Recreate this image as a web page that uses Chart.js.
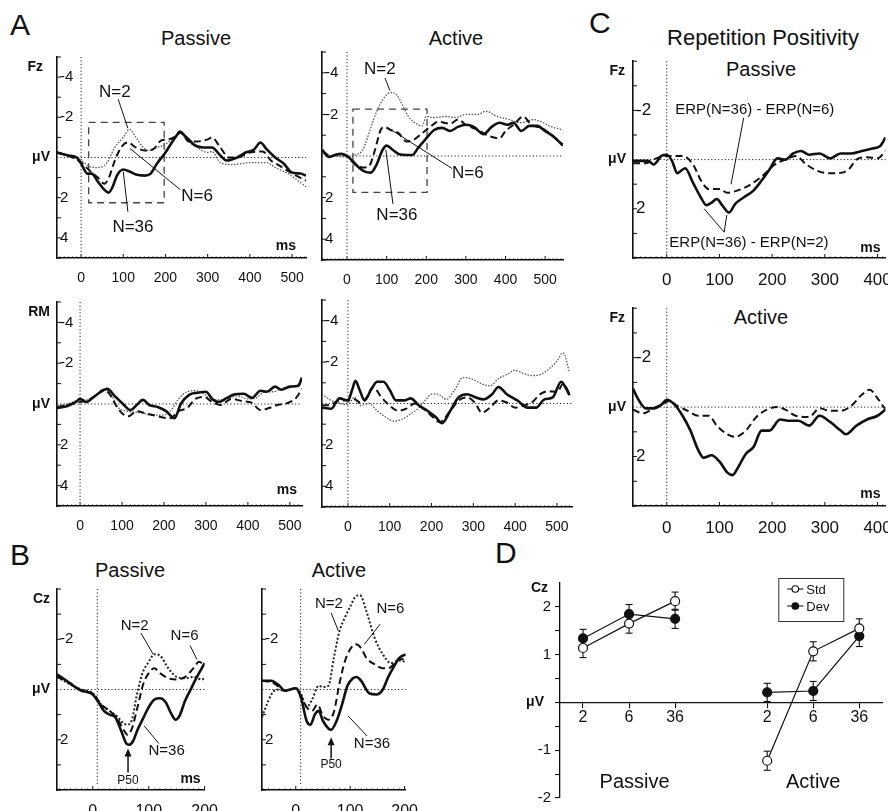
<!DOCTYPE html>
<html lang="en">
<head>
<meta charset="UTF-8" />
<title>Repetition positivity ERPs</title>
<script src="https://cdn.jsdelivr.net/npm/chart.js@4.4.1/dist/chart.umd.min.js"></script>
<style>
  html, body { margin: 0; padding: 0; background: #fff; }
  body {
    width: 888px; height: 811px; position: relative; overflow: hidden;
    font-family: "Liberation Sans", Arial, sans-serif; color: #111;
  }
  canvas { position: absolute; }
  .lbl { position: absolute; line-height: 1; white-space: nowrap; }
  .letter { font-size: 30px; }
  .ttl { font-size: 20px; transform: translateX(-50%); }
</style>
</head>
<body>
<div class="lbl letter" style="left:10px;top:10px">A</div>
<div class="lbl ttl" style="left:196px;top:28px">Passive</div>
<div class="lbl ttl" style="left:456px;top:28px">Active</div>
<div class="lbl letter" style="left:589px;top:8px">C</div>
<div class="lbl ttl" style="left:763px;top:27px;font-size:22px">Repetition Positivity</div>
<div class="lbl ttl" style="left:761px;top:59px">Passive</div>
<div class="lbl ttl" style="left:761px;top:307px">Active</div>
<div class="lbl letter" style="left:10px;top:540px">B</div>
<div class="lbl ttl" style="left:130px;top:560px">Passive</div>
<div class="lbl ttl" style="left:339px;top:560px">Active</div>
<div class="lbl letter" style="left:495px;top:538px">D</div>

<script>
const FONT = '"Liberation Sans", Arial, sans-serif';

// tick labels
const timeTicksA = [0, 100, 200, 300, 400, 500];
const timeTicksB = [0, 100, 200];
const timeTicksC = [0, 100, 200, 300, 400];
const ampLabelsA = [-4, -2, 2, 4];
const ampLabelsBC = [-2, 2];
const ampTicksD = [-2, -1.5, -1, -0.5, 0, 0.5, 1, 1.5, 2];

// A: Fz, passive  [ms, uV]
const fzPassive36 = [[-57,-0.25],[-30,-0.1],[-10,0],[0,0.3],[15,0.8],[25,0.8],[40,1.2],[55,1.6],[65,1.75],[75,1.45],[85,0.9],[100,0.6],[115,0.7],[130,0.85],[150,0.9],[165,0.8],[180,0.3],[200,-0.25],[220,-0.9],[235,-1.25],[250,-1.0],[270,-0.6],[290,-0.5],[310,-0.5],[330,-0.1],[345,0.15],[370,0],[390,-0.25],[410,-0.4],[425,-0.75],[440,-0.4],[460,0],[480,0.3],[500,0.75],[520,0.8],[533,0.9]];
const fzPassive6 = [[-57,-0.25],[-20,0],[0,0.25],[20,0.65],[40,1.0],[55,1.3],[65,1.05],[80,0.15],[95,-0.5],[110,-0.75],[130,-0.5],[150,-0.35],[170,-0.4],[190,-0.85],[205,-0.9],[220,-1.0],[235,-1.3],[255,-0.8],[275,-0.8],[300,-0.9],[310,-1.0],[330,-0.5],[350,0],[370,0],[400,-0.25],[430,-0.3],[450,0.15],[470,0.4],[500,0.8],[533,1.15]];
const fzPassive2 = [[-57,-0.3],[-20,0],[0,0.15],[20,0.45],[40,0.5],[60,0.3],[80,-0.5],[100,-1.0],[115,-1.4],[130,-1.0],[145,-0.55],[160,-0.35],[180,-0.5],[200,-0.65],[220,-1.0],[235,-1.2],[255,-0.8],[275,-0.5],[300,-0.25],[310,-0.3],[330,0.25],[360,0.35],[400,0.25],[440,0.25],[460,0.5],[490,0.8],[533,1.45]];

// A: Fz, active
const fzActive36 = [[-63,-0.3],[-45,0.05],[-30,-0.05],[-15,-0.1],[0,0],[15,0.25],[30,0.55],[45,0.75],[60,0.8],[75,0.4],[90,-0.3],[100,-0.5],[115,-0.3],[130,-0.1],[150,-0.05],[165,-0.05],[180,-0.4],[200,-0.85],[220,-1.25],[240,-1.35],[260,-1.2],[280,-1.4],[300,-1.5],[320,-1.4],[345,-1.05],[365,-1.4],[385,-1.6],[405,-1.5],[420,-1.6],[440,-1.2],[460,-1.45],[480,-1.45],[500,-1.2],[520,-0.95],[545,-0.5]];
const fzActive6 = [[-63,-0.25],[-40,0],[-20,-0.1],[0,0],[20,0.4],[40,0.55],[55,0.5],[70,-0.25],[85,-1.25],[95,-1.4],[110,-1.25],[130,-1.1],[150,-0.7],[170,-0.8],[190,-1.1],[210,-1.4],[230,-1.65],[260,-1.55],[280,-1.75],[300,-1.5],[330,-1.25],[360,-0.95],[385,-0.85],[400,-1.2],[420,-1.5],[445,-1.9],[465,-1.5],[490,-1.35],[510,-1.1],[545,-0.55]];
const fzActive2 = [[-63,-0.1],[-30,0],[0,0.05],[20,-0.05],[40,-0.3],[60,-1.35],[75,-2.15],[90,-2.7],[110,-3.05],[125,-2.95],[140,-2.45],[155,-1.9],[175,-1.55],[190,-1.45],[200,-1.9],[220,-1.85],[250,-1.9],[275,-1.85],[300,-2.0],[330,-2.0],[350,-2.15],[380,-1.9],[410,-1.75],[440,-1.6],[470,-1.75],[490,-1.65],[510,-1.45],[545,-1.25]];

// A: RM, passive
const rmPassive36 = [[-55,0.2],[-30,0.1],[-10,-0.1],[0,-0.25],[15,-0.1],[30,-0.3],[50,-0.6],[65,-0.75],[80,-0.45],[100,-0.05],[120,0.3],[135,0.05],[150,-0.2],[165,0.05],[185,0.15],[205,0.35],[225,0.7],[240,0],[260,-0.45],[280,-0.55],[300,-0.6],[315,-0.25],[330,-0.1],[350,-0.3],[365,-0.45],[390,-0.5],[410,-0.3],[430,-0.65],[445,-0.6],[465,-0.85],[480,-0.7],[500,-0.85],[520,-0.9],[529,-1.3]];
const rmPassive6 = [[-55,0.15],[-30,0.05],[0,-0.1],[20,-0.2],[40,-0.45],[55,-0.7],[70,-0.5],[85,0.05],[100,0.45],[115,0.6],[135,0.35],[155,0.45],[175,0.55],[195,0.65],[215,0.7],[235,0.35],[255,0.2],[275,-0.25],[295,-0.35],[315,-0.1],[335,0.05],[360,-0.25],[385,-0.15],[410,-0.05],[430,0.3],[450,0.2],[470,0.05],[495,-0.05],[515,-0.3],[529,-0.75]];
const rmPassive2 = [[-55,0.05],[-30,0],[0,-0.2],[20,-0.2],[40,-0.5],[60,-0.7],[75,-0.45],[90,0.15],[110,0.35],[130,0.4],[150,0.45],[170,0.55],[195,0.55],[215,0.35],[235,-0.25],[255,-0.6],[275,-0.65],[295,-0.5],[315,-0.2],[335,-0.2],[355,-0.3],[375,-0.4],[400,-0.25],[420,-0.3],[440,-0.6],[460,-0.6],[480,-0.75],[500,-0.85],[520,-0.85],[529,-1.1]];

// A: RM, active
const rmActive36 = [[-62,0.2],[-40,0.25],[-20,-0.25],[0,-0.15],[10,-0.65],[18,-1.1],[28,-0.65],[40,-0.15],[55,-0.65],[70,-1.05],[85,-1.05],[100,-0.65],[115,-0.15],[135,-0.15],[150,-0.25],[170,0.1],[190,0.35],[210,0.65],[225,0.95],[245,0.35],[265,-0.3],[285,-0.45],[305,-0.3],[325,-0.2],[345,-0.45],[360,-0.8],[380,-0.45],[405,-0.15],[430,0.2],[450,0.2],[470,-0.2],[490,-0.3],[510,-1.05],[520,-0.8],[530,-0.4]];
const rmActive6 = [[-62,0.1],[-40,0.05],[-20,-0.15],[0,-0.15],[15,-0.2],[30,-0.05],[45,-0.3],[60,-0.8],[80,-0.3],[100,0.1],[120,0.35],[140,0.25],[160,0],[180,0.25],[200,0.6],[220,0.9],[245,0.35],[265,-0.15],[285,-0.3],[305,0],[320,0.45],[340,0.2],[360,-0.15],[380,-0.05],[400,0.2],[420,0.1],[440,-0.05],[460,-0.45],[480,-0.6],[500,-0.55],[515,-0.95],[530,-0.45]];
const rmActive2 = [[-62,-0.45],[-40,-0.15],[-20,0],[0,0.05],[15,-0.3],[30,0.1],[50,0],[70,0.35],[90,0.65],[110,0.85],[130,0.75],[150,0.5],[170,0.2],[185,-0.15],[200,-0.45],[215,-0.45],[235,-0.2],[255,-0.65],[275,-1.25],[295,-1.2],[320,-0.95],[340,-0.85],[360,-1.2],[380,-1.4],[400,-1.6],[420,-1.45],[440,-1.35],[460,-1.4],[480,-1.65],[500,-2.05],[515,-2.45],[530,-1.5]];

// B: Cz, passive
const czPassive36 = [[-64,-0.6],[-50,-0.4],[-35,-0.15],[-20,0.05],[-10,0.1],[0,0.2],[10,0.5],[20,0.85],[30,1.0],[40,1.1],[50,1.6],[60,2.15],[65,2.2],[72,2.05],[80,1.6],[90,1.15],[100,0.7],[110,0.4],[120,0.35],[130,0.5],[140,0.95],[148,1.2],[155,1.05],[165,0.45],[175,0],[185,-0.45],[195,-0.85],[200,-1.05]];
const czPassive6 = [[-64,-0.5],[-40,-0.25],[-20,0.05],[0,0.15],[15,0.6],[30,0.85],[45,1.2],[55,1.6],[62,1.8],[70,1.55],[80,0.7],[90,-0.2],[100,-0.65],[110,-0.85],[120,-0.65],[135,-0.45],[150,-0.4],[165,-0.5],[180,-0.85],[190,-1.1],[200,-0.95]];
const czPassive2 = [[-64,-0.5],[-40,-0.2],[-20,0],[0,0.15],[15,0.6],[30,0.85],[45,1.1],[55,1.35],[62,1.4],[70,1.2],[78,0.3],[88,-0.6],[100,-1.1],[110,-1.4],[120,-1.35],[135,-0.85],[150,-0.5],[165,-0.45],[180,-0.5],[195,-0.4],[200,-0.45]];

// B: Cz, active
const czActive36 = [[-62,-0.35],[-45,-0.35],[-30,-0.15],[-20,0.05],[-10,0],[0,-0.05],[10,0.35],[20,1.25],[27,1.4],[35,1.0],[42,0.85],[50,1.25],[60,1.55],[65,1.6],[75,1.25],[85,0.6],[95,-0.15],[105,-0.45],[112,-0.5],[120,-0.35],[135,0.15],[148,0.2],[160,0],[170,-0.5],[180,-0.9],[190,-1.25],[202,-1.4]];
const czActive6 = [[-62,-0.35],[-40,-0.25],[-20,0.05],[-10,0],[0,-0.05],[10,0.25],[20,0.7],[30,0.85],[40,0.6],[50,1.05],[60,1.2],[70,0.9],[80,-0.2],[90,-1.1],[100,-1.6],[110,-1.8],[120,-1.65],[130,-1.25],[145,-1.0],[160,-0.85],[170,-0.85],[180,-1.0],[190,-1.2],[202,-1.2]];
const czActive2 = [[-62,1.1],[-55,0.7],[-45,0.2],[-35,0],[-20,0.05],[-10,0],[0,-0.05],[10,0.2],[20,0.7],[30,0.4],[42,-0.15],[50,-0.1],[60,-0.15],[70,-1.25],[80,-2.3],[90,-2.85],[100,-3.3],[110,-3.7],[118,-3.75],[130,-3.1],[145,-2.05],[160,-1.4],[175,-1.05],[190,-1.15],[202,-1.1]];

// C: difference waves ERP(N=36) - ERP(N=2) and ERP(N=36) - ERP(N=6)
const rpPassiveMinus2 = [[-64,0.05],[-50,0.05],[-35,0.05],[-25,0.2],[-10,-0.15],[0,-0.2],[10,0.05],[20,0.55],[35,0.35],[50,0.95],[65,1.55],[75,1.85],[85,1.75],[95,1.6],[105,1.85],[118,2.15],[130,1.8],[145,1.55],[165,1.25],[180,0.85],[195,0.4],[210,-0.05],[225,0],[240,-0.25],[255,-0.35],[270,-0.2],[290,-0.25],[310,-0.05],[330,-0.25],[350,-0.25],[370,-0.35],[390,-0.45],[405,-0.55],[415,-0.9]];
const rpPassiveMinus6 = [[-64,0.15],[-40,0.15],[-20,-0.05],[0,-0.15],[15,-0.15],[30,-0.15],[50,0.2],[65,0.85],[80,1.2],[100,1.2],[115,1.35],[135,1.25],[160,1.0],[185,0.6],[205,0.2],[225,0],[245,-0.15],[265,0.2],[285,0.45],[305,0.55],[325,0.55],[345,0.4],[360,0],[380,-0.1],[400,-0.05],[415,-0.35]];
const rpActiveMinus2 = [[-64,-0.75],[-55,-0.35],[-40,0.05],[-25,0.05],[-10,-0.1],[0,-0.3],[15,-0.1],[30,0.35],[45,0.95],[60,1.75],[70,2.05],[85,1.95],[100,2.2],[115,2.65],[125,2.75],[135,2.45],[150,1.9],[165,1.6],[180,0.95],[195,0.95],[215,0.5],[230,0.55],[250,0.55],[270,0.75],[290,0.35],[310,0.6],[330,0.95],[340,1.1],[360,0.75],[380,0.5],[400,0.35],[415,0.1]];
const rpActiveMinus6 = [[-64,0.1],[-45,0.25],[-25,0.05],[-10,-0.1],[5,-0.25],[20,-0.05],[40,0.15],[60,0.35],[80,0.35],[95,0.75],[115,1.1],[130,1.2],[150,0.95],[170,0.4],[190,0.1],[210,0],[225,0.1],[245,0.35],[270,0.4],[290,0.05],[310,0.15],[330,0.15],[350,-0.05],[370,-0.5],[385,-0.7],[400,-0.35],[415,0.1]];

// D: P50 amplitude at Cz by set size
const setSizes = ['2', '6', '36'];
const passiveX = [1, 2, 3];
const activeX = [5, 6, 7];
const stdPassive = [1.14, 1.65, 2.12];
const stdActive = [-1.22, 1.07, 1.55];
const devPassive = [1.34, 1.85, 1.75];
const devActive = [0.21, 0.24, 1.39];
const stdPassiveErr = [0.2, 0.2, 0.19];
const stdActiveErr = [0.2, 0.2, 0.2];
const devPassiveErr = [0.19, 0.2, 0.2];
const devActiveErr = [0.19, 0.2, 0.22];

function seg(ctx, x1, y1, x2, y2) {
  ctx.beginPath(); ctx.moveTo(x1, y1); ctx.lineTo(x2, y2); ctx.stroke();
}

const erpDecor = {
  id: 'erpDecor',
  beforeDatasetsDraw(chart, args, o) {
    const { ctx, chartArea: a, scales: { x, y } } = chart;
    ctx.save();
    ctx.strokeStyle = '#222';
    ctx.lineWidth = 1;
    ctx.setLineDash([1.2, 2.2]);
    const y0 = y.getPixelForValue(0);
    seg(ctx, a.left, y0, a.right, y0);
    const xo = x.getPixelForValue(o.onset);
    seg(ctx, xo, a.top, xo, a.bottom - 5);
    ctx.setLineDash([]);
    ctx.strokeStyle = '#111';
    for (let v = Math.ceil(y.min); v <= y.max; v++) {
      if (v === 0) continue;
      const py = y.getPixelForValue(v);
      seg(ctx, a.left, py, a.left + 4, py);
    }
    for (let v = Math.ceil(x.min / 10) * 10; v <= x.max; v += 10) {
      const px = x.getPixelForValue(v);
      const len = v % 100 === 0 ? 4 : 1.5;
      seg(ctx, px, a.bottom, px, a.bottom - len);
    }
    if (o.box) {
      const [x1, x2, v1, v2] = o.box;
      ctx.strokeStyle = '#444';
      ctx.lineWidth = 1.3;
      ctx.setLineDash([7, 5]);
      const px1 = x.getPixelForValue(x1), px2 = x.getPixelForValue(x2);
      const py1 = y.getPixelForValue(v1), py2 = y.getPixelForValue(v2);
      ctx.strokeRect(px1, py1, px2 - px1, py2 - py1);
      ctx.setLineDash([]);
    }
    ctx.restore();
  },
  afterDatasetsDraw(chart, args, o) {
    const { ctx, chartArea: a, scales: { x, y } } = chart;
    ctx.save();
    ctx.fillStyle = '#111';
    ctx.strokeStyle = '#111';
    ctx.lineWidth = 1;
    (o.notes || []).forEach(n => {
      ctx.font = (n.size || o.noteSize) + 'px ' + FONT;
      ctx.textAlign = 'center';
      ctx.textBaseline = 'middle';
      ctx.fillText(n.text, x.getPixelForValue(n.at[0]), y.getPixelForValue(n.at[1]));
      (n.lines || []).forEach(l => {
        seg(ctx, x.getPixelForValue(l[0]), y.getPixelForValue(l[1]),
          x.getPixelForValue(l[2]), y.getPixelForValue(l[3]));
      });
      if (n.arrow) {
        const ax = x.getPixelForValue(n.arrow[0]);
        const ay1 = y.getPixelForValue(n.arrow[1]), ay2 = y.getPixelForValue(n.arrow[3]);
        ctx.lineWidth = 1.5;
        seg(ctx, ax, ay1, ax, ay2 + 4);
        ctx.beginPath();
        ctx.moveTo(ax, ay2); ctx.lineTo(ax - 3.5, ay2 + 8); ctx.lineTo(ax + 3.5, ay2 + 8);
        ctx.closePath(); ctx.fill();
        ctx.lineWidth = 1;
      }
    });
    ctx.font = 'bold 14px ' + FONT;
    ctx.textAlign = 'right';
    if (o.channel) {
      ctx.textBaseline = 'top';
      ctx.fillText(o.channel, a.left - o.chanGap, a.top + 3);
    }
    if (o.units) {
      ctx.textBaseline = 'middle';
      ctx.fillText('\u03bcV', a.left - 7, y.getPixelForValue(0));
    }
    if (o.ms) {
      ctx.textBaseline = 'alphabetic';
      ctx.fillText('ms', a.right - o.ms[0], a.bottom - o.ms[1]);
    }
    ctx.restore();
  }
};

function lineSet(points, kind, look) {
  const s = {
    solid: { borderColor: '#111', borderWidth: 2.6, borderDash: [] },
    dashed: { borderColor: '#111', borderWidth: 2.0, borderDash: [7, 4] },
    dotted: look === 'B'
      ? { borderColor: '#222', borderWidth: 2.0, borderDash: [2, 2] }
      : { borderColor: '#555', borderWidth: 1.3, borderDash: [1.5, 1.5] }
  }[kind];
  return Object.assign({
    data: points.map(p => ({ x: p[0], y: p[1] })),
    pointRadius: 0,
    cubicInterpolationMode: 'monotone',
    fill: false
  }, s);
}

function erpPanel(p) {
  const PL = 50, PT = 10, PR = 8, PB = 30;
  const { l, t, r, b } = p.box;
  const w = r - l + PL + PR, h = b - t + PT + PB;
  const cv = document.createElement('canvas');
  cv.width = w; cv.height = h;
  cv.style.left = (l - PL) + 'px'; cv.style.top = (t - PT) + 'px';
  cv.style.width = w + 'px'; cv.style.height = h + 'px';
  document.body.appendChild(cv);
  new Chart(cv, {
    type: 'line',
    data: { datasets: p.sets },
    options: {
      responsive: false,
      animation: false,
      devicePixelRatio: 1,
      layout: { padding: { left: PL, top: PT, right: PR, bottom: 0 } },
      plugins: {
        legend: { display: false },
        tooltip: { enabled: false },
        erpDecor: p.decor
      },
      scales: {
        x: {
          type: 'linear', min: p.xRange[0], max: p.xRange[1],
          afterBuildTicks: s => { s.ticks = p.xTicks.map(v => ({ value: v })); },
          afterFit: s => { s.height = PB; },
          grid: { display: false },
          border: { display: true, color: '#111', width: 1.6 },
          ticks: { color: '#111', font: { family: FONT, size: p.xFont }, padding: 4, maxRotation: 0, autoSkip: false }
        },
        y: {
          type: 'linear', reverse: true, min: p.yRange[0], max: p.yRange[1],
          afterBuildTicks: s => { s.ticks = p.yTicks.map(v => ({ value: v })); },
          afterFit: s => { s.width = 0; },
          grid: { display: false },
          border: { display: true, color: '#111', width: 1.6 },
          ticks: { mirror: true, padding: 3, color: '#111', font: { family: FONT, size: p.yFont }, autoSkip: false }
        }
      }
    },
    plugins: [erpDecor]
  });
}

// ---------- A ----------
erpPanel({
  box: { l: 57, t: 55, r: 306, b: 258 }, xRange: [-57, 533], yRange: [-5, 5],
  xTicks: timeTicksA, yTicks: ampLabelsA, xFont: 14, yFont: 15,
  sets: [lineSet(fzPassive36, 'solid'), lineSet(fzPassive6, 'dashed'), lineSet(fzPassive2, 'dotted')],
  decor: {
    onset: 0, channel: 'Fz', chanGap: 14, units: true, ms: [10, 8], noteSize: 17,
    box: [18, 197, -1.75, 2.25],
    notes: [
      { text: 'N=2', at: [80, -3.25], lines: [[88, -2.9, 111, -1.45]] },
      { text: 'N=6', at: [275, 1.95], lines: [[235, 1.6, 116, -0.45]] },
      { text: 'N=36', at: [123, 3.45], lines: [[111, 2.7, 100, 0.7]] }
    ]
  }
});
erpPanel({
  box: { l: 322, t: 50, r: 563, b: 260 }, xRange: [-63, 545], yRange: [-5, 5],
  xTicks: timeTicksA, yTicks: ampLabelsA, xFont: 14, yFont: 15,
  sets: [lineSet(fzActive36, 'solid'), lineSet(fzActive6, 'dashed'), lineSet(fzActive2, 'dotted')],
  decor: {
    onset: 0, noteSize: 17,
    box: [15, 202, -2.25, 1.75],
    notes: [
      { text: 'N=2', at: [83, -4.15], lines: [[96, -3.75, 108, -3.15]] },
      { text: 'N=6', at: [305, 0.85], lines: [[265, 0.6, 108, -1.3]] },
      { text: 'N=36', at: [126, 2.85], lines: [[116, 2.3, 98, -0.3]] }
    ]
  }
});
erpPanel({
  box: { l: 57, t: 300, r: 302, b: 506 }, xRange: [-55, 529], yRange: [-5, 5],
  xTicks: timeTicksA, yTicks: ampLabelsA, xFont: 14, yFont: 15,
  sets: [lineSet(rmPassive36, 'solid'), lineSet(rmPassive6, 'dashed'), lineSet(rmPassive2, 'dotted')],
  decor: { onset: 0, channel: 'RM', chanGap: 7, units: true, ms: [5, 12] }
});
erpPanel({
  box: { l: 322, t: 298, r: 572, b: 507 }, xRange: [-62, 536], yRange: [-5, 5],
  xTicks: timeTicksA, yTicks: ampLabelsA, xFont: 14, yFont: 15,
  sets: [lineSet(rmActive36, 'solid'), lineSet(rmActive6, 'dashed'), lineSet(rmActive2, 'dotted')],
  decor: { onset: 0 }
});

// ---------- C ----------
erpPanel({
  box: { l: 633, t: 58, r: 888, b: 258 }, xRange: [-64, 415], yRange: [-4, 4],
  xTicks: timeTicksC, yTicks: ampLabelsBC, xFont: 17, yFont: 17,
  sets: [lineSet(rpPassiveMinus2, 'solid'), lineSet(rpPassiveMinus6, 'dashed')],
  decor: {
    onset: 0, channel: 'Fz', chanGap: 8, units: true, ms: [5, 6], noteSize: 15,
    notes: [
      { text: 'ERP(N=36) - ERP(N=6)', at: [167, -2.04], lines: [[146, -1.7, 122, 1.0]] },
      { text: 'ERP(N=36) - ERP(N=2)', at: [156, 3.37], lines: [[109, 2.95, 71, 2.0], [109, 2.95, 114, 2.25]] }
    ]
  }
});
erpPanel({
  box: { l: 633, t: 305, r: 888, b: 506 }, xRange: [-64, 415], yRange: [-4, 4],
  xTicks: timeTicksC, yTicks: ampLabelsBC, xFont: 17, yFont: 17,
  sets: [lineSet(rpActiveMinus2, 'solid'), lineSet(rpActiveMinus6, 'dashed')],
  decor: { onset: 0, channel: 'Fz', chanGap: 8, units: true, ms: [5, 8] }
});

// ---------- B ----------
erpPanel({
  box: { l: 57, t: 587, r: 214, b: 790 }, xRange: [-64, 200], yRange: [-4, 4],
  xTicks: timeTicksB, yTicks: ampLabelsBC, xFont: 16, yFont: 15,
  sets: [lineSet(czPassive36, 'solid'), lineSet(czPassive6, 'dashed'), lineSet(czPassive2, 'dotted', 'B')],
  decor: {
    onset: 8, channel: 'Cz', chanGap: 7, units: true, ms: [4, 7], noteSize: 15,
    notes: [
      { text: 'N=2', at: [75, -2.55], lines: [[86, -2.25, 108, -1.4]] },
      { text: 'N=6', at: [164, -2.15], lines: [[174, -1.75, 186, -1.2]] },
      { text: 'N=36', at: [132, 2.45], lines: [[118, 2.15, 92, 1.45]] },
      { text: 'P50', at: [63, 3.64], size: 12, arrow: [63, 3.3, 63, 2.35] }
    ]
  }
});
erpPanel({
  box: { l: 262, t: 587, r: 414, b: 790 }, xRange: [-62, 202], yRange: [-4, 4],
  xTicks: timeTicksB, yTicks: ampLabelsBC, xFont: 16, yFont: 15,
  sets: [lineSet(czActive36, 'solid'), lineSet(czActive6, 'dashed'), lineSet(czActive2, 'dotted', 'B')],
  decor: {
    onset: 9, noteSize: 15,
    notes: [
      { text: 'N=2', at: [61, -3.4], lines: [[65, -3.05, 78, -2.35]] },
      { text: 'N=6', at: [174, -3.19], lines: [[155, -2.6, 126, -1.8]] },
      { text: 'N=36', at: [140, 2.15], lines: [[131, 1.85, 96, 1.05]] },
      { text: 'P50', at: [65, 3.0], size: 12, arrow: [65, 2.75, 65, 1.9] }
    ]
  }
});

// ---------- D ----------
const dDecor = {
  id: 'dDecor',
  beforeDatasetsDraw(chart) {
    const { ctx, scales: { x, y } } = chart;
    ctx.save();
    ctx.strokeStyle = '#111';
    ctx.lineWidth = 1.1;
    chart.data.datasets.forEach(ds => {
      ds.data.forEach((pt, i) => {
        const px = x.getPixelForValue(pt.x);
        const top = y.getPixelForValue(pt.y + ds.errors[i]);
        const bot = y.getPixelForValue(pt.y - ds.errors[i]);
        seg(ctx, px, top, px, bot);
        seg(ctx, px - 3.5, top, px + 3.5, top);
        seg(ctx, px - 3.5, bot, px + 3.5, bot);
      });
    });
    ctx.restore();
  },
  afterDraw(chart) {
    const { ctx, chartArea: a, scales: { x, y } } = chart;
    ctx.save();
    ctx.fillStyle = '#111';
    ctx.font = 'bold 14px ' + FONT;
    ctx.textAlign = 'right';
    ctx.textBaseline = 'top';
    ctx.fillText('Cz', a.left - 12, a.top - 2);
    ctx.textBaseline = 'middle';
    ctx.fillText('\u03bcV', a.left - 16, y.getPixelForValue(0));
    ctx.font = '20px ' + FONT;
    ctx.textAlign = 'center';
    ctx.fillText('Passive', x.getPixelForValue(2.12), y.getPixelForValue(-1.67));
    ctx.fillText('Active', x.getPixelForValue(6.0), y.getPixelForValue(-1.67));
    // legend
    const lx = a.right - 104, ly = a.top - 5;
    ctx.strokeStyle = '#333';
    ctx.lineWidth = 1;
    ctx.strokeRect(lx + 0.5, ly + 0.5, 65, 43);
    [['Std', '#fff', 11], ['Dev', '#111', 28]].forEach(([name, fillC, dy]) => {
      ctx.strokeStyle = '#111';
      ctx.lineWidth = 1.1;
      seg(ctx, lx + 9, ly + dy, lx + 25, ly + dy);
      ctx.beginPath();
      ctx.arc(lx + 17, ly + dy, 3.3, 0, Math.PI * 2);
      ctx.fillStyle = fillC; ctx.fill(); ctx.stroke();
      ctx.fillStyle = '#111';
      ctx.font = '13px ' + FONT;
      ctx.textAlign = 'left';
      ctx.fillText(name, lx + 28, ly + dy + 1);
    });
    ctx.restore();
  }
};

function dSet(xs, vals, errs, open) {
  return {
    data: xs.map((v, i) => ({ x: v, y: vals[i] })),
    errors: errs,
    borderColor: '#111',
    borderWidth: 1.2,
    pointRadius: 4.5,
    pointBorderWidth: 1.2,
    pointBorderColor: '#111',
    pointBackgroundColor: open ? '#fff' : '#111',
    tension: 0,
    fill: false
  };
}

(function () {
  const box = { l: 560, t: 583, r: 887, b: 803 };
  const YW = 26, PL = 24, PT = 23, PR = 1, PB = 8;
  const w = box.r - box.l + PL + YW + PR, h = box.b - box.t + PT + PB;
  const cv = document.createElement('canvas');
  cv.width = w; cv.height = h;
  cv.style.left = (box.l - PL - YW) + 'px'; cv.style.top = (box.t - PT) + 'px';
  cv.style.width = w + 'px'; cv.style.height = h + 'px';
  document.body.appendChild(cv);
  const xPos = passiveX.concat(activeX);
  new Chart(cv, {
    type: 'line',
    data: {
      datasets: [
        dSet(passiveX, stdPassive, stdPassiveErr, true),
        dSet(activeX, stdActive, stdActiveErr, true),
        dSet(passiveX, devPassive, devPassiveErr, false),
        dSet(activeX, devActive, devActiveErr, false)
      ]
    },
    options: {
      responsive: false,
      animation: false,
      devicePixelRatio: 1,
      layout: { padding: { left: PL, top: PT, right: PR, bottom: PB } },
      plugins: { legend: { display: false }, tooltip: { enabled: false } },
      scales: {
        x: {
          type: 'linear', min: 0.5, max: 7.5, position: { y: 0 },
          afterBuildTicks: s => { s.ticks = xPos.map(v => ({ value: v })); },
          grid: { drawOnChartArea: false, drawTicks: true, tickLength: 5, color: '#111', lineWidth: 1.1 },
          border: { display: true, color: '#111', width: 1.3 },
          ticks: {
            color: '#111', font: { family: FONT, size: 16 }, padding: 1, maxRotation: 0, autoSkip: false,
            callback: v => setSizes[xPos.indexOf(v) % 3]
          }
        },
        y: {
          type: 'linear', position: 'left', min: -2, max: 2.5,
          afterBuildTicks: s => { s.ticks = ampTicksD.map(v => ({ value: v })); },
          afterFit: s => { s.width = YW; },
          grid: { drawOnChartArea: false, drawTicks: true, tickLength: 5, color: '#111', lineWidth: 1.1 },
          border: { display: true, color: '#111', width: 1.3 },
          ticks: {
            color: '#111', font: { family: FONT, size: 15 }, padding: 4, autoSkip: false,
            callback: v => (Number.isInteger(v) && v !== 0 ? String(v) : '')
          }
        }
      }
    },
    plugins: [dDecor]
  });
})();
</script>
</body>
</html>
